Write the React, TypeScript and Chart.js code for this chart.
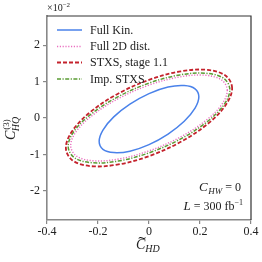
import React, { useEffect, useRef } from "react";
import { Chart, registerables } from "chart.js";

Chart.register(...registerables);

// ---- data ----
const xRange = [-0.4, 0.4];
const yRange = [-2.8, 2.8];
const xTicks = [-0.4, -0.2, 0, 0.2, 0.4];
const xTickLabels = ["-0.4", "-0.2", "0", "0.2", "0.4"];
const yTicks = [-2, -1, 0, 1, 2];
const yTickLabels = ["-2", "-1", "0", "1", "2"];

const seriesLabels = ["Full Kin.", "Full 2D dist.", "STXS, stage 1.1", "Imp. STXS"];

// contour points (y in units of 1e-2)
const fullKinX = [0.1955, 0.1806, 0.1382, 0.0748, 0, -0.0748, -0.1382, -0.1806, -0.1955, -0.1806, -0.1382, -0.0748, 0, 0.0748, 0.1382, 0.1806];
const fullKinY = [0.58, 0.8, 0.89, 0.85, 0.67, 0.38, 0.03, -0.33, -0.64, -0.86, -0.95, -0.91, -0.73, -0.44, -0.09, 0.27];

const full2dX = [0.307, 0.284, 0.217, 0.1175, 0, -0.1175, -0.217, -0.284, -0.307, -0.284, -0.217, -0.1175, 0, 0.1175, 0.217, 0.284];
const full2dY = [0.76, 1.047, 1.175, 1.124, 0.902, 0.543, 0.1, -0.357, -0.76, -1.047, -1.175, -1.124, -0.902, -0.543, -0.1, 0.357];

const stxsX = [0.326, 0.301, 0.2305, 0.1248, 0, -0.1248, -0.2305, -0.301, -0.326, -0.301, -0.2305, -0.1248, 0, 0.1248, 0.2305, 0.301];
const stxsY = [0.82, 1.158, 1.32, 1.281, 1.047, 0.654, 0.161, -0.357, -0.82, -1.158, -1.32, -1.281, -1.047, -0.654, -0.161, 0.357];

const impStxsX = [0.317, 0.293, 0.224, 0.121, 0, -0.121, -0.224, -0.293, -0.317, -0.293, -0.224, -0.121, 0, 0.121, 0.224, 0.293];
const impStxsY = [0.78, 1.087, 1.228, 1.183, 0.957, 0.586, 0.125, -0.354, -0.78, -1.087, -1.228, -1.183, -0.957, -0.586, -0.125, 0.354];

// ---- styles ----
const FONT = '"Liberation Serif", "DejaVu Serif", serif';
const styles = [
  { color: "#4a82ea", width: 1.5, dash: [] as number[] },
  { color: "#ea6fc0", width: 1.4, dash: [1.2, 1.6] },
  { color: "#c4222c", width: 1.8, dash: [4, 2] },
  { color: "#5a9c33", width: 1.5, dash: [4, 1.5, 1.2, 1.5] },
];

function closedLoop(xs: number[], ys: number[]) {
  const n = xs.length;
  const pts = xs.map((x, i) => ({ x, y: ys[i] }));
  return [pts[n - 1], ...pts, pts[0], pts[1]];
}

type Run = { t: string; size: number; italic?: boolean; dy?: number; dx?: number };

function setFont(ctx: CanvasRenderingContext2D, r: Run) {
  ctx.font = `${r.italic ? "italic " : ""}${r.size}px ${FONT}`;
}
function runsWidth(ctx: CanvasRenderingContext2D, runs: Run[]) {
  let w = 0;
  for (const r of runs) {
    setFont(ctx, r);
    w += ctx.measureText(r.t).width + (r.dx || 0);
  }
  return w;
}
function drawRuns(ctx: CanvasRenderingContext2D, x: number, y: number, runs: Run[]) {
  let cx = x;
  for (const r of runs) {
    setFont(ctx, r);
    cx += r.dx || 0;
    ctx.fillText(r.t, cx, y + (r.dy || 0));
    cx += ctx.measureText(r.t).width;
  }
}

const decorPlugin = {
  id: "decor",
  afterDraw(chart: any) {
    const ctx: CanvasRenderingContext2D = chart.ctx;
    const { left, right, top, bottom } = chart.chartArea;
    ctx.save();
    // top & right frame
    ctx.strokeStyle = "#333";
    ctx.lineWidth = 1.2;
    ctx.beginPath();
    ctx.moveTo(left, top);
    ctx.lineTo(right, top);
    ctx.lineTo(right, bottom);
    ctx.stroke();

    ctx.fillStyle = "#222";
    ctx.textAlign = "left";
    ctx.textBaseline = "alphabetic";

    // multiplier
    drawRuns(ctx, left, 11, [
      { t: "×10", size: 10 },
      { t: "−2", size: 7, dy: -4 },
    ]);

    // legend
    const rows = [30, 46.5, 62.5, 79];
    seriesLabels.forEach((lab, i) => {
      const s = styles[i];
      ctx.strokeStyle = s.color;
      ctx.lineWidth = s.width;
      ctx.setLineDash(s.dash);
      ctx.beginPath();
      ctx.moveTo(57, rows[i]);
      ctx.lineTo(82, rows[i]);
      ctx.stroke();
      ctx.setLineDash([]);
      ctx.fillStyle = "#222";
      ctx.font = `12px ${FONT}`;
      ctx.textBaseline = "middle";
      ctx.fillText(lab, 90, rows[i] + 0.5);
    });
    ctx.textBaseline = "alphabetic";

    // annotations (right aligned)
    const a1: Run[] = [
      { t: "C", size: 13, italic: true },
      { t: "HW", size: 9, italic: true, dy: 2.5, dx: 0.5 },
      { t: " = 0", size: 12 },
    ];
    drawRuns(ctx, 241 - runsWidth(ctx, a1), 191, a1);
    const a2: Run[] = [
      { t: "L", size: 13, italic: true },
      { t: " = 300 fb", size: 12 },
      { t: "−1", size: 8, dy: -5 },
    ];
    drawRuns(ctx, 243 - runsWidth(ctx, a2), 210, a2);

    // x axis title: C~_HD
    ctx.font = `italic 14px ${FONT}`;
    const cw = ctx.measureText("C").width;
    ctx.fillText("C", 136, 249);
    ctx.font = `11px "DejaVu Serif", serif`;
    const tw = ctx.measureText("~").width;
    ctx.fillStyle = "#000";
    ctx.fillText("~", 136 + cw / 2 - tw / 2 + 1.5, 241.5);
    ctx.fillStyle = "#222";
    ctx.font = `italic 10px ${FONT}`;
    ctx.fillText("HD", 136 + cw, 252);

    // y axis title: C_HQ^(3), rotated
    ctx.translate(15, 140);
    ctx.rotate(-Math.PI / 2);
    ctx.font = `italic 14px ${FONT}`;
    const cw2 = ctx.measureText("C").width;
    ctx.fillText("C", 0, 0);
    ctx.font = `italic 10px ${FONT}`;
    ctx.fillText("HQ", cw2 - 0.5, 4);
    ctx.font = `9px ${FONT}`;
    ctx.fillText("(3)", cw2 + 1, -6);
    ctx.restore();
  },
};

export default function App() {
  const ref = useRef<HTMLCanvasElement | null>(null);
  useEffect(() => {
    if (!ref.current) return;
    const sets = [
      [fullKinX, fullKinY],
      [full2dX, full2dY],
      [stxsX, stxsY],
      [impStxsX, impStxsY],
    ];
    const datasets = sets.map(([xs, ys], i) => {
      const data = closedLoop(xs, ys);
      const last = data.length - 1;
      const s = styles[i];
      return {
        label: seriesLabels[i],
        data,
        borderColor: s.color,
        borderWidth: s.width,
        borderDash: s.dash,
        pointRadius: 0,
        fill: false,
        tension: 0.35,
        segment: {
          borderColor: (c: any) =>
            c.p0DataIndex === 0 || c.p1DataIndex === last ? "rgba(0,0,0,0)" : s.color,
        },
      };
    });
    const tickFont = { family: FONT, size: 12 };
    const chart = new Chart(ref.current, {
      type: "line",
      data: { datasets: datasets as any },
      options: {
        animation: false,
        responsive: false,
        layout: { padding: { left: 0, top: 16, right: 11, bottom: 0 } },
        plugins: { legend: { display: false }, tooltip: { enabled: false } },
        scales: {
          x: {
            type: "linear",
            min: xRange[0],
            max: xRange[1],
            afterBuildTicks: (s: any) => {
              s.ticks = xTicks.map((v) => ({ value: v }));
            },
            afterFit: (s: any) => {
              s.height = 42;
            },
            ticks: {
              font: tickFont,
              color: "#222",
              padding: 1,
              maxRotation: 0,
              autoSkip: false,
              callback: (v: any) => xTickLabels[xTicks.indexOf(Number(v))] ?? "",
            },
            grid: { drawOnChartArea: false, tickLength: 4, color: "#888", lineWidth: 1.2 },
            border: { color: "#888", width: 1.6 },
          },
          y: {
            type: "linear",
            min: yRange[0],
            max: yRange[1],
            afterBuildTicks: (s: any) => {
              s.ticks = yTicks.map((v) => ({ value: v }));
            },
            afterFit: (s: any) => {
              s.width = 47;
            },
            ticks: {
              font: tickFont,
              color: "#222",
              padding: 3,
              autoSkip: false,
              callback: (v: any) => yTickLabels[yTicks.indexOf(Number(v))] ?? "",
            },
            grid: { drawOnChartArea: false, tickLength: 4, color: "#888", lineWidth: 1.2 },
            border: { color: "#888", width: 1.6 },
          },
        },
      },
      plugins: [decorPlugin],
    });
    return () => chart.destroy();
  }, []);
  return (
    <div style={{ position: "fixed", left: 0, top: 0, width: 262, height: 262, background: "#fff" }}>
      <canvas ref={ref} width={262} height={262} style={{ width: 262, height: 262, display: "block" }} />
    </div>
  );
}
